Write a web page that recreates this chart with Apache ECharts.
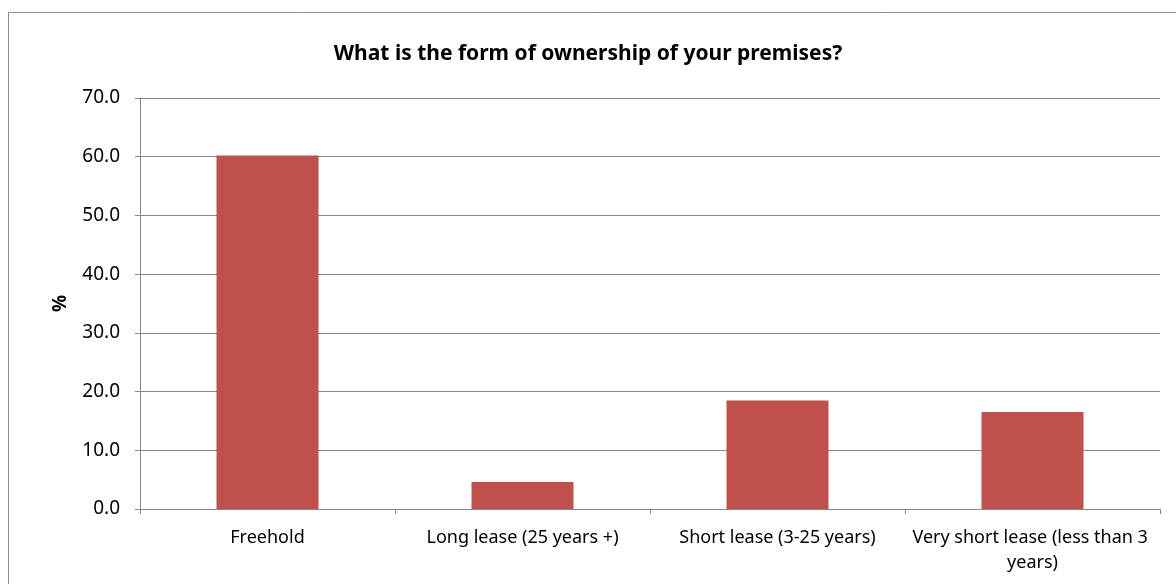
<!DOCTYPE html>
<html>
<head>
<meta charset="utf-8">
<script src="https://cdn.jsdelivr.net/npm/echarts@6/dist/echarts.min.js"></script>
<style>
  html, body { margin: 0; padding: 0; background: #ffffff; }
  #chart { width: 1176px; height: 584px; }
</style>
</head>
<body>
<div id="chart"></div>
<script>
// Survey: form of ownership of business premises (% of respondents)
const categories = [
  'Freehold',
  'Long lease (25 years +)',
  'Short lease (3-25 years)',
  'Very short lease (less than 3 years)'
];
const shares = [60.2, 4.6, 18.5, 16.5];
const yTicks = { min: 0, max: 70, interval: 10 };

const FONT = '"Noto Sans", "Open Sans", sans-serif';
const GRID_GREY = '#878787';

const chart = echarts.init(document.getElementById('chart'), null, { renderer: 'canvas' });

chart.setOption({
  backgroundColor: '#ffffff',
  animation: false,
  title: {
    text: 'What is the form of ownership of your premises?',
    left: 'center',
    top: 39,
    textStyle: { fontFamily: FONT, fontSize: 21, fontWeight: 'bold', color: '#000000' }
  },
  graphic: [{
    type: 'rect',
    shape: { x: 8.5, y: 12.5, width: 1200, height: 600 },
    style: { fill: 'none', stroke: '#8c8c8c', lineWidth: 1 },
    silent: true,
    z: -1
  }],
  grid: { left: 140, right: 16, top: 98, bottom: 75, containLabel: false },
  xAxis: {
    type: 'category',
    data: categories,
    axisLine: { lineStyle: { color: GRID_GREY, width: 1 } },
    axisTick: { show: true, length: 5, alignWithLabel: false, lineStyle: { color: GRID_GREY } },
    axisLabel: {
      interval: 0,
      margin: 16,
      width: 252,
      overflow: 'break',
      lineHeight: 25,
      fontFamily: FONT,
      fontSize: 18,
      color: '#000000'
    }
  },
  yAxis: {
    type: 'value',
    min: yTicks.min,
    max: yTicks.max,
    interval: yTicks.interval,
    name: '%',
    nameLocation: 'middle',
    nameGap: 70,
    nameRotate: 90,
    nameTextStyle: { fontFamily: FONT, fontSize: 19, fontWeight: 'bold', color: '#000000' },
    axisLine: { show: true, lineStyle: { color: GRID_GREY, width: 1 } },
    axisTick: { show: true, length: 5, lineStyle: { color: GRID_GREY } },
    axisLabel: {
      margin: 20,
      formatter: v => v.toFixed(1),
      fontFamily: FONT,
      fontSize: 19,
      color: '#000000'
    },
    splitLine: { show: true, lineStyle: { color: GRID_GREY, width: 1 } }
  },
  series: [{
    type: 'bar',
    data: shares,
    barCategoryGap: '60%',
    itemStyle: { color: '#C0504D' }
  }]
});
</script>
</body>
</html>
